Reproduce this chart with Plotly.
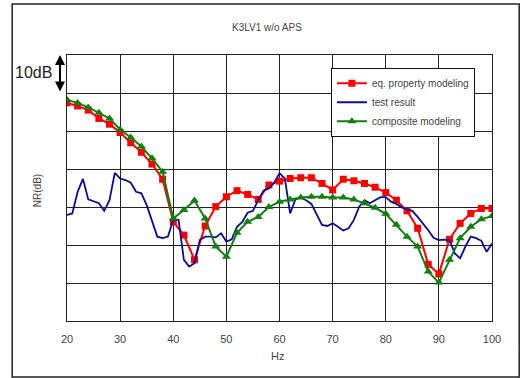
import plotly.graph_objects as go

# ---- data ----
freq_model = list(range(20, 101, 2))
eq_property = [57.4, 56.6, 55.5, 53.3, 51.8, 49.6, 46.9, 44.4, 41.3, 37.3,
               26.1, 22.6, 16.1, 25.0, 30.1, 32.7, 34.3, 33.3, 32.0, 35.8,
               36.8, 37.5, 37.7, 37.7, 36.2, 34.5, 37.3, 36.9, 36.2, 35.2,
               33.8, 31.8, 29.0, 24.4, 14.9, 12.4, 21.5, 25.7, 28.3, 29.6, 29.6]
composite = [58.2, 57.4, 56.2, 54.8, 53.3, 50.4, 48.3, 45.9, 42.8, 39.3,
             27.0, 29.2, 31.7, 27.0, 19.6, 16.9, 23.2, 26.1, 27.4, 30.0,
             31.4, 32.0, 32.5, 32.7, 32.7, 32.5, 32.5, 32.0, 31.0, 29.8,
             28.2, 25.3, 22.2, 19.6, 13.0, 10.1, 16.1, 21.8, 24.8, 26.8, 27.6]
freq_test = list(range(20, 101))
test_result = [27.9, 28.3, 34.0, 37.4, 32.0, 31.4, 31.0, 29.0, 31.8, 39.0,
               37.5, 37.1, 36.4, 34.0, 33.6, 30.5, 26.1, 22.2, 21.8, 22.2,
               26.6, 26.6, 16.1, 14.3, 15.2, 21.3, 22.2, 22.2, 22.0, 23.1,
               20.9, 21.5, 24.8, 26.1, 28.5, 29.0, 31.8, 34.3, 34.9, 36.4,
               38.9, 37.5, 28.3, 32.0, 32.5, 31.8, 30.8, 27.9, 25.3, 25.0,
               25.7, 24.8, 23.8, 24.4, 26.6, 30.1, 31.8, 31.0, 31.7, 32.6,
               32.6, 31.4, 30.8, 29.9, 29.4, 29.0, 27.4, 25.7, 23.9, 21.9,
               21.3, 21.4, 21.3, 17.8, 16.5, 19.6, 22.2, 21.8, 21.1, 18.2, 20.4]
x_ticks = [20, 30, 40, 50, 60, 70, 80, 90, 100]

FONT = "Liberation Sans, Arial, sans-serif"
TXT = "#444444"

fig = go.Figure()
fig.add_trace(go.Scatter(
    x=freq_model, y=eq_property, name="eq. property modeling",
    mode="lines+markers", line=dict(color="#ff0000", width=2),
    marker=dict(symbol="square", size=7, color="#ff0000")))
fig.add_trace(go.Scatter(
    x=freq_test, y=test_result, name="test result",
    mode="lines", line=dict(color="#0a0aa0", width=1.8)))
fig.add_trace(go.Scatter(
    x=freq_model, y=composite, name="composite modeling",
    mode="lines+markers", line=dict(color="#108010", width=2),
    marker=dict(symbol="triangle-up", size=8, color="#108010")))

fig.update_layout(
    width=529, height=378,
    margin=dict(l=67, r=37, t=55, b=57),
    paper_bgcolor="white", plot_bgcolor="white",
    font=dict(family=FONT, color=TXT, size=11),
    showlegend=True,
    legend=dict(x=0.621, y=0.952, xanchor="left", yanchor="top",
                bgcolor="white", bordercolor="#111111", borderwidth=1,
                font=dict(size=10, color=TXT, family=FONT),
                tracegroupgap=0, itemwidth=30),
)
fig.update_xaxes(range=[20, 100], tickvals=x_ticks, ticks="",
                 ticklabelstandoff=8,
                 showgrid=True, gridcolor="#222222", gridwidth=1,
                 showline=True, linecolor="#222222", linewidth=1, mirror=True,
                 zeroline=False, tickfont=dict(size=11, color=TXT))
fig.update_yaxes(range=[0, 70], dtick=10, showticklabels=False, ticks="",
                 showgrid=True, gridcolor="#222222", gridwidth=1,
                 showline=True, linecolor="#222222", linewidth=1, mirror=True,
                 zeroline=False)

# outer frame
fig.add_shape(type="rect", xref="paper", yref="paper",
              x0=-0.129, x1=1.064, y0=-0.2105, y1=1.192,
              line=dict(color="#222222", width=1.5), layer="below")

fig.add_annotation(text="K3LV1 w/o APS", xref="paper", yref="paper",
                   x=0.47, y=1.13, showarrow=False,
                   font=dict(size=10, color=TXT, family=FONT))
fig.add_annotation(text="NR(dB)", xref="paper", yref="paper",
                   x=-0.087, y=0.49, textangle=-90, showarrow=False,
                   font=dict(size=10, color=TXT, family=FONT))
fig.add_annotation(text="Hz", xref="paper", yref="paper",
                   x=0.496, y=-0.16, showarrow=False,
                   font=dict(size=11, color=TXT, family=FONT))
fig.add_annotation(text="10dB", xref="paper", yref="y",
                   x=-0.03, y=65.5, xanchor="right", showarrow=False,
                   font=dict(size=16, color="#222222", family=FONT))
fig.add_annotation(text="", xref="paper", yref="y", x=-0.0165, y=70,
                   axref="pixel", ayref="y", ax=0, ay=60,
                   showarrow=True, arrowside="end+start", arrowhead=2,
                   arrowsize=1, arrowwidth=2, arrowcolor="#000000")

fig.write_html("out.html")
